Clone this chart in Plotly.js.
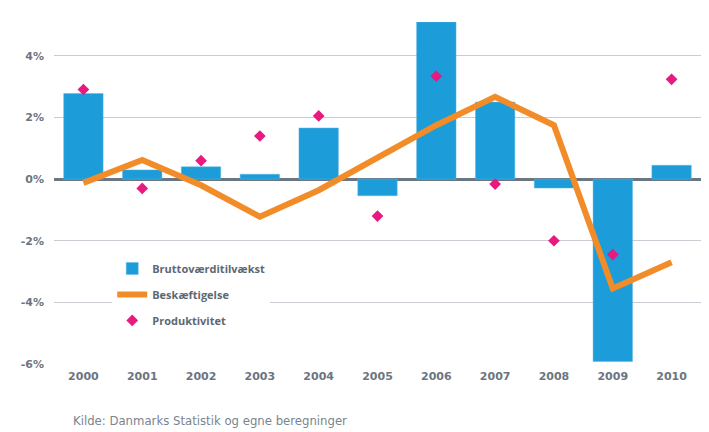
<!DOCTYPE html>
<html>
<head>
<meta charset="utf-8">
<script src="https://cdn.plot.ly/plotly-3.0.1.min.js"></script>
<style>
html,body{margin:0;padding:0;background:#fff;}
#chart{width:709px;height:432px;}
</style>
</head>
<body>
<div id="chart"></div>
<script>
const years = ["2000","2001","2002","2003","2004","2005","2006","2007","2008","2009","2010"];
const brutto = [2.78, 0.30, 0.40, 0.16, 1.66, -0.54, 5.10, 2.50, -0.29, -5.92, 0.45];
const beskaeftigelse = [-0.12, 0.62, -0.20, -1.22, -0.36, 0.70, 1.75, 2.67, 1.75, -3.55, -2.70];
const produktivitet = [2.91, -0.30, 0.60, 1.40, 2.05, -1.20, 3.34, -0.16, -2.00, -2.45, 3.24];
const yTickVals = [-6, -4, -2, 0, 2, 4];
const yTickText = ["-6%", "-4%", "-2%", "0%", "2%", "4%"];
const sourceText = "Kilde: Danmarks Statistik og egne beregninger";

const tickFont = {family: "'DejaVu Sans', sans-serif", size: 11, color: "#6b7580", weight: 700};

const traces = [
  {
    type: "bar", name: "Bruttoværditilvækst", x: years, y: brutto,
    marker: {color: "#1c9cd8", line: {color: "#5fb8e4", width: 0.5}},
    width: 0.67, legendgroup: "a"
  },
  {
    type: "scatter", mode: "lines", name: "Beskæftigelse", x: years, y: beskaeftigelse,
    line: {color: "#f28c28", width: 6}, legendgroup: "b"
  },
  {
    type: "scatter", mode: "markers", name: "Produktivitet", x: years, y: produktivitet,
    marker: {color: "#e8197f", symbol: "diamond", size: 9}, legendgroup: "c"
  }
];

const layout = {
  width: 709, height: 432,
  margin: {l: 53.5, r: 7.5, t: 22, b: 68},
  paper_bgcolor: "#ffffff", plot_bgcolor: "#ffffff",
  showlegend: true,
  xaxis: {
    type: "category", range: [-0.5, 10.5], autorange: false,
    showgrid: false, zeroline: false, showline: false,
    ticks: "", tickfont: tickFont, ticklabelstandoff: 4
  },
  yaxis: {
    range: [-6, 5.1], autorange: false, tickvals: yTickVals, ticktext: yTickText,
    showgrid: true, gridcolor: "#c9cdd3", gridwidth: 1,
    zeroline: true, zerolinecolor: "#6a7682", zerolinewidth: 3,
    showline: false, ticks: "", tickfont: tickFont, ticklabelstandoff: 9
  },
  legend: {
    x: 0.090, y: 0.322, xanchor: "left", yanchor: "top",
    bgcolor: "#ffffff", borderwidth: 0,
    traceorder: "grouped", tracegroupgap: 7,
    font: {family: "'Open Sans', 'DejaVu Sans', sans-serif", size: 11, color: "#5d6873", weight: 700},
    itemwidth: 30
  },
  annotations: [{
    xref: "paper", yref: "paper", x: 0.026, y: -0.192, xanchor: "left", yanchor: "bottom",
    text: sourceText, showarrow: false,
    font: {family: "'DejaVu Sans Condensed', 'Liberation Sans Narrow', sans-serif", size: 13, color: "#7a848e"}
  }]
};

Plotly.newPlot("chart", traces, layout, {displayModeBar: false, staticPlot: true});
</script>
</body>
</html>
